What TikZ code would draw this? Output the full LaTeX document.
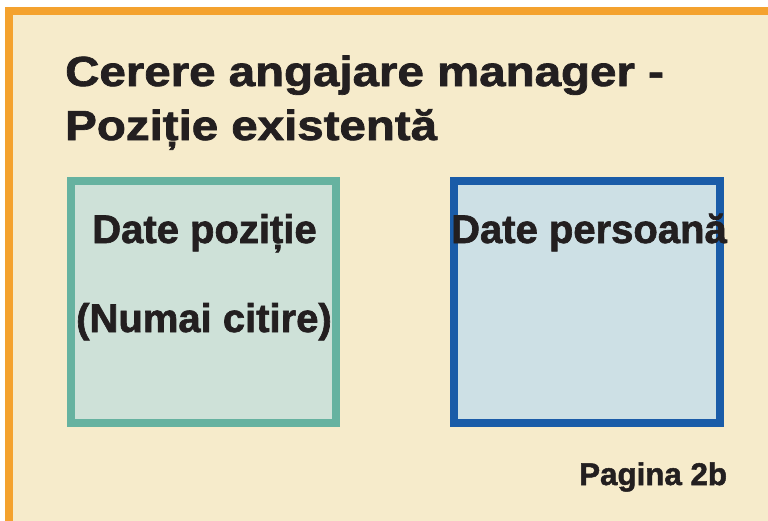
\documentclass[tikz,border=0pt]{standalone}
\usepackage{fontspec}
\setmainfont{Liberation Sans}[BoldFeatures={FakeBold=1.6}]
\begin{document}
\definecolor{cream}{HTML}{F6EBCB}
\definecolor{orangeb}{HTML}{F4A22E}
\definecolor{greenline}{HTML}{66B2A0}
\definecolor{greenfill}{HTML}{CEE1D8}
\definecolor{blueline}{HTML}{1A5CA8}
\definecolor{bluefill}{HTML}{CDE0E5}
\definecolor{ink}{HTML}{231F20}
\begin{tikzpicture}[x=1pt,y=-1pt,
  panel/.style={draw, line width=8pt, minimum width=266pt, minimum height=242pt, inner sep=0pt},
  label/.style={text=ink, font=\bfseries\fontsize{40}{48}\selectfont, inner sep=0pt, anchor=base},
  titletext/.style={text=ink, font=\bfseries\fontsize{42}{48}\selectfont, inner sep=0pt, anchor=base west}]
\useasboundingbox (0,0) rectangle (768,520);
\begin{scope}
\clip (0,0) rectangle (768,520);
\fill[white] (0,0) rectangle (768,520);
\draw[orangeb, fill=cream, line width=8pt] (9,11) rectangle (800,560);
\end{scope}
\node[titletext] (t1) at (65,86) {\scalebox{1.13}[1]{Cerere angajare manager -}};
\node[titletext] (t2) at (65,140) {\scalebox{1.13}[1]{Poziție existentă}};
\node[panel, greenline, fill=greenfill, minimum width=265pt] (pos) at (203.5,302) {};
\node[panel, blueline, fill=bluefill] (pers) at (587,302) {};
\node[label] (posname) at (204.5,243) {Date poziție};
\node[label] (posnote) at (204,332) {(Numai citire)};
\node[label] (persname) at (589,243) {Date persoană};
\node[text=ink, font=\bfseries\fontsize{31.3}{36}\selectfont, inner sep=0pt, anchor=base west] (page) at (579,485) {Pagina 2b};
\end{tikzpicture}
\end{document}
